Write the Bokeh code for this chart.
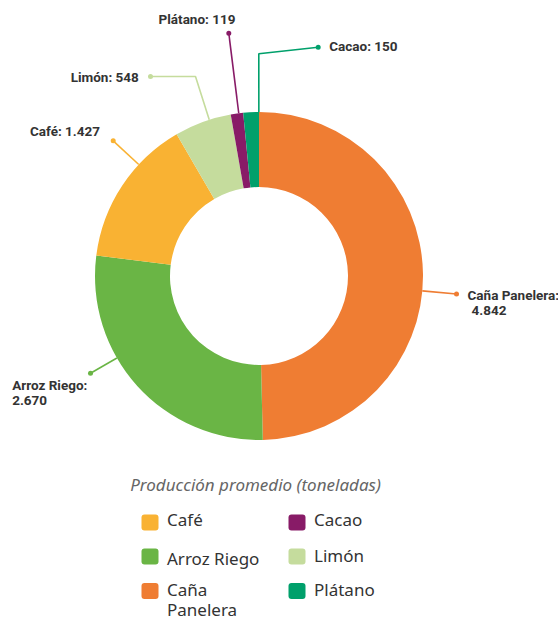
import numpy as np
from bokeh.plotting import figure
from bokeh.models import Range1d
from bokeh.core.properties import value
from bokeh.embed import file_html
from bokeh.resources import INLINE

# ---------------- data ----------------
categories = ["Caña Panelera", "Arroz Riego", "Café", "Limón", "Plátano", "Cacao"]
values = [4842, 2670, 1427, 548, 119, 150]
slice_colors = ["#EF7D33", "#6AB545", "#F9B233", "#C5DC9D", "#881B67", "#00A06B"]

legend_names = ["Café", "Arroz Riego", "Caña\nPanelera", "Cacao", "Limón", "Plátano"]
legend_colors = ["#F9B233", "#6AB545", "#EF7D33", "#881B67", "#C5DC9D", "#00A06B"]
title_text = "Producción promedio (toneladas)"

# ---------------- layout (pixel coordinates) ----------------
W, H = 558, 622
CX, CY = 258.5, 275.5
R_OUT, R_IN = 164, 89

# label placement: connector waypoints (elbow..., dot), text anchor, alignment, wrap
label_layout = {
    "Caña Panelera": dict(pts=[(456, 293.5)], tx=467, ty=294, align="left", wrap=True, dx2=4),
    "Arroz Riego": dict(pts=[(90, 372.7)], tx=11.7, ty=384, align="left", wrap=True, dx2=0),
    "Café": dict(pts=[(112.7, 140.3)], tx=99.5, ty=130.7, align="right", wrap=False),
    "Limón": dict(pts=[(195, 76), (150, 76)], tx=138.3, ty=76, align="right", wrap=False),
    "Plátano": dict(pts=[(228.3, 32.7)], tx=196.5, ty=18.3, align="center", wrap=False),
    "Cacao": dict(pts=[(258.3, 53.3), (317.7, 46.7)], tx=328.7, ty=45.7, align="left", wrap=False),
}

legend_x = [141, 141, 141, 288, 288, 288]
legend_y = [522, 556, 590.5, 522, 556, 590.5]
legend_text_y = [519, 557.5, 589, 519, 554.5, 589]
LEGEND_LINE = 20

p = figure(width=W, height=H, output_backend="svg", toolbar_location=None,
           x_range=Range1d(0, W), y_range=Range1d(H, 0),
           min_border=0, outline_line_color=None, background_fill_color="white",
           border_fill_color="white")
p.axis.visible = False
p.grid.visible = False

# ---------------- donut ----------------
vals = np.array(values, dtype=float)
total = vals.sum()
cum = np.concatenate([[0], np.cumsum(vals)]) / total * 2 * np.pi  # clockwise from top
start_angles = np.pi / 2 - cum[1:]
end_angles = np.pi / 2 - cum[:-1]
p.annular_wedge(x=[CX] * len(values), y=[CY] * len(values), inner_radius=R_IN,
                outer_radius=R_OUT, start_angle=list(start_angles), end_angle=list(end_angles),
                direction="anticlock", fill_color=slice_colors, line_color=None)

# ---------------- labels ----------------
def fmt(v):
    return f"{v:,}".replace(",", ".")

label_font = value("Roboto")
LBL = dict(text_baseline="middle", text_font=label_font, text_font_style="bold",
           text_font_size="13.5px", text_color="#333333")
for cat, v, col in zip(categories, values, slice_colors):
    lay = label_layout[cat]
    fx, fy = lay["pts"][0]
    d = np.hypot(fx - CX, fy - CY)
    sx = CX + (fx - CX) / d * R_OUT
    sy = CY + (fy - CY) / d * R_OUT
    xs = [sx] + [q[0] for q in lay["pts"]]
    ys = [sy] + [q[1] for q in lay["pts"]]
    p.line(xs, ys, line_color=col, line_width=1.6)
    p.scatter([xs[-1]], [ys[-1]], size=5, fill_color=col, line_color=None)
    if lay["wrap"]:
        p.text([lay["tx"]], [lay["ty"]], text=[f"{cat}:"], text_align=lay["align"], **LBL)
        p.text([lay["tx"] + lay["dx2"]], [lay["ty"] + 16], text=[fmt(v)],
               text_align=lay["align"], **LBL)
    else:
        p.text([lay["tx"]], [lay["ty"]], text=[f"{cat}: {fmt(v)}"], text_align=lay["align"], **LBL)

# ---------------- legend title ----------------
p.text([255], [484], text=[title_text], text_align="center", text_baseline="middle",
       text_font=value("Noto Sans"), text_font_style="italic", text_font_size="17px",
       text_color="#666666")

# ---------------- legend ----------------
p.rect(x=[lx + 8.5 for lx in legend_x], y=legend_y, width=17, height=16,
       fill_color=legend_colors, line_color=None, border_radius=3)
for lx, ty, name in zip(legend_x, legend_text_y, legend_names):
    for k, part in enumerate(name.split("\n")):
        p.text([lx + 25.5], [ty + k * LEGEND_LINE], text=[part], text_align="left",
               text_baseline="middle", text_font=value("Noto Sans"), text_font_size="17px",
               text_color="#333333")

open("out.html", "w").write(file_html(p, INLINE))
